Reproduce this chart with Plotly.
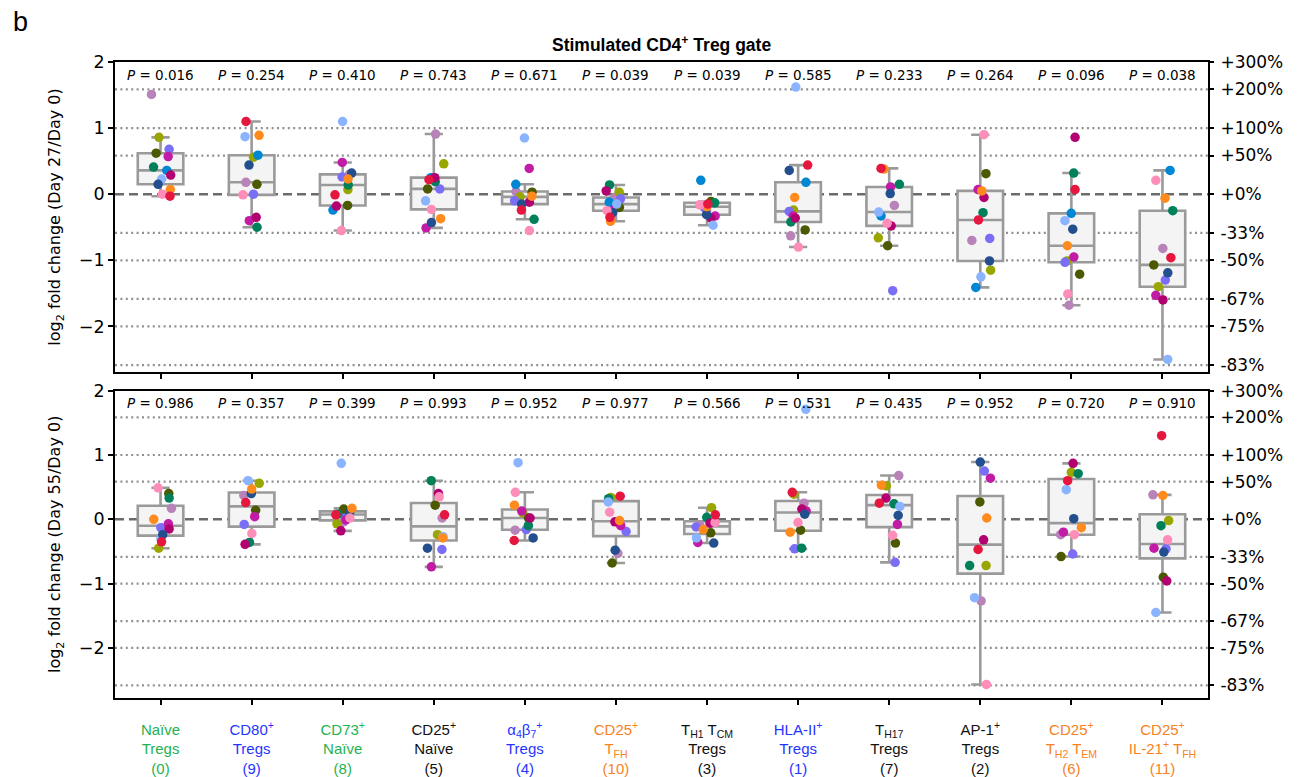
import numpy as np
import plotly.graph_objects as go

# ---------------- data ----------------
categories = [
    "Naïve<br>Tregs<br>(0)",
    "CD80<sup>+</sup><br>Tregs<br>(9)",
    "CD73<sup>+</sup><br>Naïve<br>(8)",
    "CD25<sup>+</sup><br>Naïve<br>(5)",
    "α<sub>4</sub>β<sub>7</sub><sup>+</sup><br>Tregs<br>(4)",
    "CD25<sup>+</sup><br>T<sub>FH</sub><br>(10)",
    "T<sub>H1</sub> T<sub>CM</sub><br>Tregs<br>(3)",
    "HLA-II<sup>+</sup><br>Tregs<br>(1)",
    "T<sub>H17</sub><br>Tregs<br>(7)",
    "AP-1<sup>+</sup><br>Tregs<br>(2)",
    "CD25<sup>+</sup><br>T<sub>H2</sub> T<sub>EM</sub><br>(6)",
    "CD25<sup>+</sup><br>IL-21<sup>+</sup> T<sub>FH</sub><br>(11)",
]
category_colors = ["#1fb24f", "#1f35ff", "#1fb24f", "#111111", "#1f35ff", "#f7821e",
                   "#111111", "#1f35ff", "#111111", "#111111", "#f7821e", "#f7821e"]

p_day27 = ["0.016", "0.254", "0.410", "0.743", "0.671", "0.039",
           "0.039", "0.585", "0.233", "0.264", "0.096", "0.038"]
p_day55 = ["0.986", "0.357", "0.399", "0.993", "0.952", "0.977",
           "0.566", "0.531", "0.435", "0.952", "0.720", "0.910"]

left_tickvals = [2, 1, 0, -1, -2]
left_ticktext = ["2", "1", "0", "−1", "−2"]
pct_levels = [2.0, 1.585, 1.0, 0.585, 0.0, -0.585, -1.0, -1.585, -2.0, -2.585]
pct_labels = ["+300%", "+200%", "+100%", "+50%", "+0%", "-33%", "-50%", "-67%", "-75%", "-83%"]

donor_colors = ["#b883b8", "#9aa600", "#7b6ef6", "#4c5900", "#c21ba6", "#00805a", "#0087d4",
                "#b30070", "#8ab4ff", "#234f8e", "#ff8b1f", "#ff8dba", "#e6173f"]

# Day 27 / Day 0, one list per donor (12 categories)
d27_mauve    = [1.51, 0.18, 0.30, 0.91, 0.04, -0.05, -0.25, -0.63, -0.17, -0.70, -1.68, -0.82]
d27_olive    = [0.86, 0.56, 0.07, 0.46, -0.04, 0.03, -0.12, -0.24, -0.66, -1.15, -1.01, -1.40]
d27_purple   = [0.68, 0.00, 0.26, 0.08, -0.10, -0.07, -0.20, -0.26, -1.46, -0.67, -1.03, -1.30]
d27_darkolv  = [0.62, 0.15, -0.17, 0.08, 0.03, -0.20, -0.11, -0.54, -0.78, 0.31, -1.21, -1.07]
d27_violet   = [0.57, -0.40, 0.48, -0.51, 0.39, -0.22, -0.33, -0.33, 0.11, 0.07, -0.95, -1.53]
d27_teal     = [0.41, -0.50, 0.14, 0.19, -0.38, 0.14, -0.13, -0.42, 0.15, -0.28, 0.32, -0.25]
d27_blue     = [0.36, 0.59, -0.24, 0.25, 0.15, -0.12, 0.21, 0.18, -0.33, -1.41, -0.29, 0.36]
d27_magenta  = [0.29, -0.35, -0.18, 0.25, -0.12, 0.05, -0.36, -0.36, -0.48, -0.05, 0.86, -1.60]
d27_ltblue   = [0.23, 0.87, 1.10, -0.10, 0.85, -0.15, -0.47, 1.62, -0.27, -1.25, -0.40, -2.50]
d27_navy     = [0.15, 0.44, 0.32, -0.43, -0.15, -0.28, -0.31, 0.36, 0.01, -1.01, -0.53, -1.19]
d27_orange   = [0.07, 0.89, 0.23, -0.37, -0.03, -0.41, -0.19, -0.05, 0.38, 0.05, -0.78, -0.06]
d27_pink     = [0.00, -0.01, -0.55, -0.23, -0.55, -0.25, -0.16, -0.80, -0.44, 0.90, -1.51, 0.21]
d27_red      = [-0.03, 1.10, -0.01, 0.22, -0.24, -0.35, -0.15, 0.44, 0.39, -0.39, 0.07, -0.96]

# Day 55 / Day 0 (the blue donor has no Day 55 sample)
NA = None
d55_mauve    = [0.17, 0.37, -0.04, 0.02, -0.17, -0.53, -0.10, 0.25, 0.68, -1.27, -0.24, 0.38]
d55_olive    = [-0.45, 0.56, -0.07, -0.24, 0.10, 0.34, 0.18, 0.39, 0.52, -0.72, 0.73, -0.02]
d55_purple   = [-0.13, -0.08, 0.09, -0.47, -0.16, -0.19, -0.12, -0.46, -0.67, 0.75, -0.54, -0.46]
d55_darkolv  = [0.40, 0.14, 0.16, 0.22, 0.02, -0.68, -0.21, -0.17, -0.37, 0.27, -0.58, -0.90]
d55_violet   = [-0.07, 0.04, -0.01, -0.74, 0.13, -0.10, -0.36, 0.13, -0.08, 0.64, -0.20, -0.45]
d55_teal     = [0.33, -0.36, 0.08, 0.60, -0.10, 0.32, 0.03, -0.45, 0.24, -0.72, 0.71, -0.10]
d55_blue     = [NA, NA, NA, NA, NA, NA, NA, NA, NA, NA, NA, NA]
d55_magenta  = [-0.15, -0.39, -0.18, 0.40, 0.02, -0.04, -0.06, 0.16, 0.33, -0.32, 0.87, -0.96]
d55_ltblue   = [-0.30, 0.60, 0.87, -0.27, 0.88, 0.27, -0.29, 1.71, 0.20, -1.22, 0.46, -1.45]
d55_navy     = [-0.24, 0.40, 0.11, -0.45, -0.29, -0.48, -0.37, 0.08, 0.06, 0.89, 0.01, -0.51]
d55_orange   = [0.00, 0.47, 0.17, -0.29, 0.22, -0.02, -0.16, -0.20, 0.53, 0.02, -0.13, 0.37]
d55_pink     = [0.49, -0.22, 0.02, 0.35, 0.42, 0.11, -0.05, -0.05, -0.25, -2.57, -0.24, -0.32]
d55_red      = [-0.35, 0.26, 0.07, 0.07, -0.33, 0.36, 0.07, 0.42, 0.25, -0.47, 0.60, 1.30]

day27 = [d27_mauve, d27_olive, d27_purple, d27_darkolv, d27_violet, d27_teal, d27_blue,
         d27_magenta, d27_ltblue, d27_navy, d27_orange, d27_pink, d27_red]
day55 = [d55_mauve, d55_olive, d55_purple, d55_darkolv, d55_violet, d55_teal, d55_blue,
         d55_magenta, d55_ltblue, d55_navy, d55_orange, d55_pink, d55_red]

# ---------------- figure ----------------
W, H = 1301, 777
ML, MR, MT, MB = 115, 93, 62, 79
plot_h = H - MT - MB

def frac_from_top(px):
    return 1 - (px - MT) / plot_h

top_dom = [frac_from_top(372), 1.0]
bot_dom = [0.0, frac_from_top(390.7)]

fig = go.Figure()
rng = np.random.default_rng(3)
ncat = len(categories)
xpos = np.arange(ncat)

panels = [
    (day27, "x", "y", "y3", p_day27),
    (day55, "x2", "y2", "y4", p_day55),
]

for data, xa, ya, ya_r, pvals in panels:
    arr = np.array([[np.nan if v is None else v for v in row] for row in data], dtype=float)
    # box statistics (linear-interpolated quartiles, 1.5 IQR whiskers)
    q1s, meds, q3s, los, his = [], [], [], [], []
    for i in range(ncat):
        col = arr[:, i]
        col = col[~np.isnan(col)]
        q1, med, q3 = np.percentile(col, [25, 50, 75])
        iqr = q3 - q1
        q1s.append(q1); meds.append(med); q3s.append(q3)
        los.append(col[col >= q1 - 1.5 * iqr].min())
        his.append(col[col <= q3 + 1.5 * iqr].max())
    fig.add_trace(go.Box(
        x=list(xpos), q1=q1s, median=meds, q3=q3s, lowerfence=los, upperfence=his,
        xaxis=xa, yaxis=ya, width=0.5, whiskerwidth=0.4, boxpoints=False,
        line=dict(color="#9a9a9a", width=2.6), fillcolor="#f4f4f4",
        showlegend=False, hoverinfo="skip"))
    jit = rng.uniform(-0.12, 0.12, size=arr.shape)
    for d in range(arr.shape[0]):
        ok = ~np.isnan(arr[d])
        if not ok.any():
            continue
        fig.add_trace(go.Scatter(
            x=(xpos + jit[d])[ok], y=arr[d][ok], xaxis=xa, yaxis=ya, mode="markers",
            marker=dict(size=9.5, color=donor_colors[d], line=dict(width=0)),
            showlegend=False, hoverinfo="skip"))
    # invisible trace to carry the right-hand percent axis
    fig.add_trace(go.Scatter(x=[xpos[0]], y=[pct_levels[4]], xaxis=xa, yaxis=ya_r,
                             mode="markers", marker=dict(opacity=0), showlegend=False,
                             hoverinfo="skip"))
    for lv in pct_levels[1:]:
        if lv == 0:
            fig.add_shape(type="line", xref=f"{xa} domain", yref=ya, x0=0, x1=1, y0=lv, y1=lv,
                          line=dict(color="#6b6b6b", width=2.4, dash="9px,5px"), layer="below")
        else:
            fig.add_shape(type="line", xref=f"{xa} domain", yref=ya, x0=0, x1=1, y0=lv, y1=lv,
                          line=dict(color="#8f8f8f", width=2.2, dash="2px,3.4px"), layer="below")
    for i in range(ncat):
        fig.add_annotation(x=xpos[i], y=1.81, xref=xa, yref=ya, text=f"<i>P</i> = {pvals[i]}",
                           showarrow=False, xanchor="center", yanchor="middle",
                           font=dict(family="DejaVu Sans", size=13.5, color="black"))

styled_ticks = []
for lab, col in zip(categories, category_colors):
    parts = lab.split("<br>")
    styled_ticks.append("<br>".join(f'<span style="color:{col}">{p}</span>' for p in parts))

axis_common = dict(showline=True, linecolor="black", linewidth=1.8, mirror=True,
                   ticks="outside", ticklen=5, tickwidth=1.5, tickcolor="black",
                   showgrid=False, zeroline=False, automargin=False)
right_common = dict(tickvals=pct_levels, ticktext=pct_labels, tickfont=dict(size=17),
                    ticks="outside", ticklen=5, tickwidth=1.5, tickcolor="black",
                    ticklabelstandoff=3, automargin=False,
                    showgrid=False, zeroline=False, showline=False)

fig.update_layout(
    width=W, height=H,
    margin=dict(l=ML, r=MR, t=MT, b=MB),
    paper_bgcolor="white", plot_bgcolor="white",
    font=dict(family="DejaVu Sans", size=16, color="black"),
    xaxis=dict(domain=[0, 1], anchor="y", range=[-0.5, 11.5], tickvals=list(xpos),
               showticklabels=False, **axis_common),
    xaxis2=dict(domain=[0, 1], anchor="y2", range=[-0.5, 11.5], tickvals=list(xpos),
                ticktext=styled_ticks, tickfont=dict(family="Liberation Sans, Arial", size=15),
                ticklabelstandoff=12, **axis_common),
    yaxis=dict(domain=top_dom, anchor="x", range=[-2.69, 2.0], tickvals=left_tickvals,
               ticktext=left_ticktext, tickfont=dict(size=17.5),
               title=dict(text="log<sub>2</sub> fold change (Day 27/Day 0)", font=dict(size=16),
                          standoff=14),
               **axis_common),
    yaxis2=dict(domain=bot_dom, anchor="x2", range=[-2.78, 2.0], tickvals=left_tickvals,
                ticktext=left_ticktext, tickfont=dict(size=17.5),
                title=dict(text="log<sub>2</sub> fold change (Day 55/Day 0)", font=dict(size=16),
                           standoff=14),
                **axis_common),
    yaxis3=dict(overlaying="y", side="right", anchor="x", range=[-2.69, 2.0], **right_common),
    yaxis4=dict(overlaying="y2", side="right", anchor="x2", range=[-2.78, 2.0], **right_common),
)

fig.add_annotation(x=0.5, y=frac_from_top(44), xref="paper", yref="paper",
                   xanchor="center", yanchor="middle",
                   text="<b>Stimulated CD4<sup>+</sup> Treg gate</b>", showarrow=False,
                   font=dict(family="Liberation Sans, Arial", size=17.5, color="black"))
fig.add_annotation(x=(20 - ML) / (W - ML - MR), y=frac_from_top(22), xref="paper", yref="paper",
                   xanchor="center", yanchor="middle", text="b", showarrow=False,
                   font=dict(family="Liberation Sans, Arial", size=27, color="black"))

fig.write_html("out.html")
